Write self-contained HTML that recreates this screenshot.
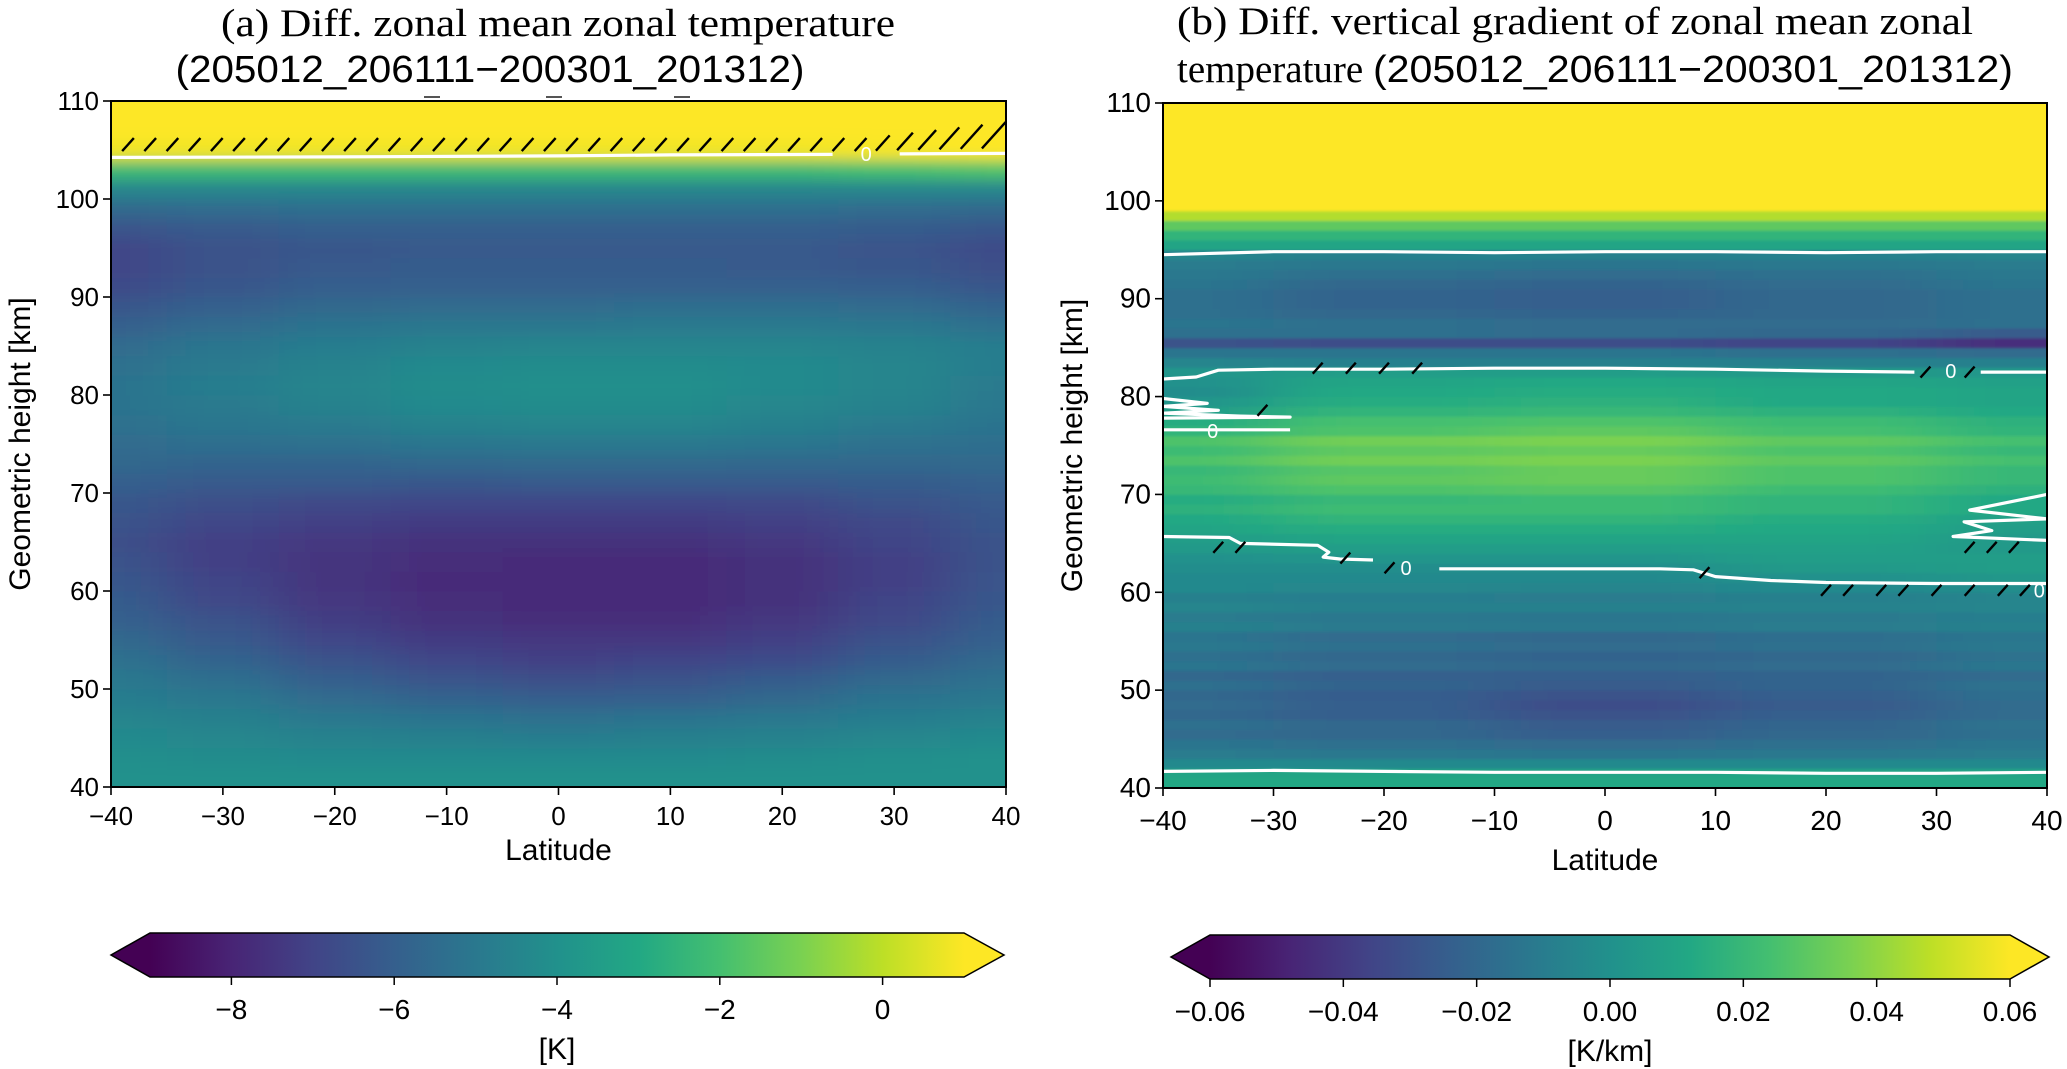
<!DOCTYPE html>
<html><head><meta charset="utf-8"><style>
html,body{margin:0;padding:0;background:#fff;}
svg{display:block;}
.tk{font-family:"Liberation Sans",sans-serif;font-size:26px;fill:#000;}
.tkb{font-family:"Liberation Sans",sans-serif;font-size:28px;fill:#000;}
.lab{font-family:"Liberation Sans",sans-serif;font-size:30px;fill:#000;}
.ttl{font-family:"Liberation Serif",serif;font-size:39px;fill:#000;}
.tts{font-family:"Liberation Sans",sans-serif;font-size:38px;fill:#000;}
</style></head><body>
<svg id="fig" width="2067" height="1069" viewBox="0 0 2067 1069" xmlns="http://www.w3.org/2000/svg">
<defs>
<clipPath id="clipA"><rect x="111" y="101" width="895" height="686"/></clipPath>
<clipPath id="clipB"><rect x="1163" y="103" width="884" height="685"/></clipPath>
<filter id="blurA" x="-10%" y="-10%" width="120%" height="120%"><feGaussianBlur stdDeviation="28 7"/></filter>
<filter id="blurB" x="-10%" y="-10%" width="120%" height="120%"><feGaussianBlur stdDeviation="40 1.2"/></filter>
<linearGradient id="vir" x1="0" x2="1" y1="0" y2="0">
<stop offset="0" stop-color="#440154"/><stop offset="0.1" stop-color="#482475"/><stop offset="0.2" stop-color="#414487"/><stop offset="0.3" stop-color="#355f8d"/><stop offset="0.4" stop-color="#2a788e"/><stop offset="0.5" stop-color="#21918c"/><stop offset="0.6" stop-color="#22a884"/><stop offset="0.7" stop-color="#44bf70"/><stop offset="0.8" stop-color="#7ad151"/><stop offset="0.9" stop-color="#bddf26"/><stop offset="1" stop-color="#fde725"/>
</linearGradient>
</defs>

<text class="ttl" x="558" y="36" text-anchor="middle" textLength="674" lengthAdjust="spacingAndGlyphs">(a) Diff. zonal mean zonal temperature</text>
<text class="tts" x="490" y="82" text-anchor="middle" textLength="629" lengthAdjust="spacingAndGlyphs">(205012_206111−200301_201312)</text>
<line x1="424" y1="97" x2="440" y2="97" stroke="#555" stroke-width="2"/>
<line x1="546" y1="97" x2="562" y2="97" stroke="#555" stroke-width="2"/>
<line x1="674" y1="97" x2="690" y2="97" stroke="#555" stroke-width="2"/>
<text class="ttl" x="1575" y="34" text-anchor="middle" textLength="796" lengthAdjust="spacingAndGlyphs">(b) Diff. vertical gradient of zonal mean zonal</text>
<text x="1177" y="82"><tspan class="ttl">temperature </tspan><tspan class="tts" textLength="640" lengthAdjust="spacingAndGlyphs">(205012_206111−200301_201312)</tspan></text>

<g id="panelA"></g>
<g id="panelB"></g>
<g id="cbars"></g>
</svg>
<script>
const latsA = [-40,-30,-20,-10,0,10,20,30,40];
const heightsA = [41,43,45,47,49,51,53,55,57,59,61,63,65,67,69,71,73,75,77,79,81,83,85,87,89,91,93,95,97,99,101,103,105,107,109];
const valuesA = [
[-4.0,-4.0,-4.0,-4.0,-4.0,-4.0,-4.0,-4.0,-4.0],
[-4.1,-4.2,-4.3,-4.3,-4.3,-4.3,-4.2,-4.1,-4.0],
[-4.3,-4.4,-4.6,-4.7,-4.8,-4.7,-4.6,-4.4,-4.3],
[-4.5,-4.7,-5.0,-5.2,-5.3,-5.2,-5.0,-4.8,-4.6],
[-4.8,-5.0,-5.5,-5.8,-6.0,-5.9,-5.6,-5.2,-5.0],
[-5.0,-5.4,-6.0,-6.4,-6.6,-6.5,-6.1,-5.6,-5.3],
[-5.3,-5.8,-6.5,-6.9,-7.1,-7.0,-6.7,-6.1,-5.6],
[-5.6,-6.2,-6.9,-7.3,-7.4,-7.4,-7.1,-6.5,-5.9],
[-5.9,-6.5,-7.2,-7.6,-7.7,-7.7,-7.4,-6.8,-6.1],
[-6.1,-6.8,-7.4,-7.7,-7.8,-7.8,-7.6,-7.0,-6.3],
[-6.3,-7.0,-7.5,-7.8,-7.8,-7.8,-7.6,-7.1,-6.4],
[-6.5,-7.1,-7.5,-7.7,-7.8,-7.8,-7.6,-7.1,-6.5],
[-6.6,-7.1,-7.4,-7.6,-7.6,-7.6,-7.4,-7.0,-6.5],
[-6.5,-6.9,-7.1,-7.3,-7.3,-7.3,-7.1,-6.8,-6.3],
[-6.3,-6.6,-6.8,-6.9,-6.9,-6.9,-6.8,-6.5,-6.2],
[-6.0,-6.2,-6.2,-6.3,-6.2,-6.2,-6.2,-6.1,-5.9],
[-5.7,-5.8,-5.8,-5.7,-5.6,-5.6,-5.7,-5.7,-5.6],
[-5.5,-5.4,-5.3,-5.1,-5.0,-5.0,-5.1,-5.3,-5.4],
[-5.3,-5.1,-4.9,-4.6,-4.5,-4.5,-4.7,-4.9,-5.2],
[-5.2,-4.9,-4.6,-4.3,-4.2,-4.2,-4.4,-4.6,-5.0],
[-5.2,-4.8,-4.5,-4.2,-4.1,-4.1,-4.3,-4.5,-4.9],
[-5.3,-4.9,-4.6,-4.3,-4.2,-4.2,-4.3,-4.5,-4.8],
[-5.5,-5.1,-4.8,-4.6,-4.5,-4.5,-4.5,-4.6,-4.8],
[-5.9,-5.5,-5.2,-5.0,-5.0,-4.9,-4.9,-5.0,-5.3],
[-6.3,-5.9,-5.6,-5.5,-5.5,-5.4,-5.4,-5.5,-5.8],
[-6.7,-6.3,-6.0,-5.9,-5.9,-5.9,-5.9,-6.0,-6.3],
[-6.9,-6.5,-6.2,-6.1,-6.1,-6.1,-6.2,-6.3,-6.6],
[-6.9,-6.5,-6.3,-6.2,-6.2,-6.2,-6.2,-6.4,-6.7],
[-6.4,-6.2,-6.0,-6.0,-6.0,-6.0,-6.0,-6.1,-6.3],
[-5.6,-5.5,-5.4,-5.4,-5.4,-5.4,-5.4,-5.5,-5.6],
[-4.5,-4.5,-4.5,-4.5,-4.5,-4.5,-4.5,-4.5,-4.5],
[-2.2,-2.2,-2.2,-2.2,-2.2,-2.2,-2.2,-2.0,-1.8],
[0.8,0.8,0.8,0.8,0.8,0.8,0.8,0.9,1.0],
[1.5,1.5,1.5,1.5,1.5,1.5,1.5,1.5,1.5],
[1.5,1.5,1.5,1.5,1.5,1.5,1.5,1.5,1.5]
];
const contourA_lat = [-40,-20,0,10,24.5];
const contourA_h   = [104.25,104.3,104.4,104.5,104.55];
const contourA2_lat = [30.5,40];
const contourA2_h   = [104.6,104.65];

const latsB = [-40,-20,0,20,40];
const heightsB = [];
for (let h = 40.5; h < 110; h += 1) heightsB.push(h);
const valuesB = [
[.012,.012,.012,.012,.012],[.010,.010,.010,.010,.010],[-.004,-.004,-.004,-.004,-.004],
[-.010,-.012,-.014,-.012,-.010],[-.014,-.016,-.018,-.016,-.013],[-.018,-.020,-.024,-.020,-.016],
[-.016,-.020,-.026,-.021,-.015],[-.020,-.024,-.030,-.024,-.018],[-.018,-.024,-.032,-.026,-.018],
[-.020,-.025,-.030,-.024,-.017],[-.016,-.022,-.026,-.022,-.015],[-.020,-.023,-.024,-.022,-.018],
[-.014,-.018,-.020,-.018,-.013],[-.016,-.020,-.022,-.020,-.015],[-.012,-.016,-.018,-.016,-.012],
[-.014,-.018,-.020,-.017,-.013],[-.008,-.011,-.012,-.010,-.008],[-.010,-.012,-.013,-.011,-.009],
[-.006,-.008,-.008,-.007,-.006],[-.008,-.009,-.010,-.008,-.006],[-.004,-.005,-.006,-.004,-.002],
[-.004,-.004,-.004,.000,.003],[-.002,-.002,-.002,.004,.006],[.000,.002,.002,.006,.006],
[.004,.006,.006,.008,.004],[.006,.010,.010,.010,.004],[.010,.014,.014,.012,.006],
[.012,.018,.018,.014,.008],[.016,.022,.022,.018,.012],[.014,.020,.022,.018,.012],
[.020,.026,.028,.022,.016],[.022,.030,.032,.026,.020],[.020,.028,.032,.026,.020],
[.026,.034,.036,.030,.024],[.022,.030,.032,.026,.020],[.026,.034,.036,.030,.024],
[.018,.026,.030,.024,.018],[.014,.024,.026,.022,.016],[.006,.018,.020,.016,.012],
[.002,.014,.016,.012,.010],[-.002,.012,.014,.012,.010],[.000,.010,.012,.010,.008],
[.002,.006,.006,.004,.003],[-.006,-.008,-.008,-.008,-.008],[-.014,-.014,-.014,-.016,-.018],
[-.030,-.032,-.032,-.036,-.044],[-.016,-.016,-.018,-.020,-.026],[-.014,-.016,-.018,-.018,-.016],
[-.016,-.020,-.022,-.020,-.016],[-.016,-.022,-.024,-.020,-.016],[-.016,-.022,-.024,-.020,-.016],
[-.014,-.020,-.022,-.018,-.014],[-.012,-.016,-.018,-.016,-.012],[-.010,-.012,-.014,-.012,-.010],
[-.006,-.008,-.008,-.008,-.006],[.010,.010,.010,.010,.010],[.018,.018,.018,.018,.018],
[.030,.030,.030,.030,.030],[.046,.046,.046,.046,.046],
[.08,.08,.08,.08,.08],[.08,.08,.08,.08,.08],[.08,.08,.08,.08,.08],[.08,.08,.08,.08,.08],
[.08,.08,.08,.08,.08],[.08,.08,.08,.08,.08],[.08,.08,.08,.08,.08],[.08,.08,.08,.08,.08],
[.08,.08,.08,.08,.08],[.08,.08,.08,.08,.08],[.08,.08,.08,.08,.08]
];
const contB1_lat = [-40,-30,-20,-10,0,10,20,30,40];
const contB1_h   = [94.5,94.8,94.8,94.7,94.8,94.8,94.7,94.8,94.8];
const contB2_lat = [-40,-37,-35,-30,-20,-10,0,10,20,28];
const contB2_h   = [81.8,82.0,82.7,82.8,82.8,82.9,82.9,82.8,82.6,82.5];
const contB2b_lat = [34,40];
const contB2b_h   = [82.5,82.5];
const contB3_lat = [-40,-34,-33,-26,-25,-25.5,-24,-21];
const contB3_h   = [65.7,65.6,65.0,64.8,64.1,63.6,63.4,63.3];
const contB3b_lat = [-15,-5,5,8,10,15,20,30,40];
const contB3b_h   = [62.4,62.4,62.4,62.3,61.6,61.2,61.0,60.9,60.9];
const contB4_lat = [-40,-30,-20,-10,0,10,20,30,40];
const contB4_h   = [41.7,41.8,41.7,41.6,41.6,41.6,41.5,41.5,41.6];
const contB5_lat = [-40,-36,-40,-35,-40,-33,-28.5,-40];
const contB5_h   = [79.8,79.3,79.0,78.6,78.3,78.0,77.9,77.8];
const contB6_lat = [-40,-28.5];
const contB6_h   = [76.6,76.6];
const contB7_lat = [40,33,40,32.5,35,31.5,40];
const contB7_h   = [70,68.4,67.5,67.2,66.3,65.7,65.3];

const ticksX = [-40,-30,-20,-10,0,10,20,30,40];
const ticksY = [40,50,60,70,80,90,100,110];
const cbTicksA = [-8,-6,-4,-2,0];
const cbTicksB = [-0.06,-0.04,-0.02,0.00,0.02,0.04,0.06];
const cbLabelsB = ["−0.06","−0.04","−0.02","0.00","0.02","0.04","0.06"];

const NS = "http://www.w3.org/2000/svg";
const VIR = ["#440154","#482475","#414487","#355f8d","#2a788e","#21918c","#22a884","#44bf70","#7ad151","#bddf26","#fde725"];
function hex(c){return [parseInt(c.slice(1,3),16),parseInt(c.slice(3,5),16),parseInt(c.slice(5,7),16)];}
function viridis(t){
  t=Math.max(0,Math.min(1,t));const p=t*10;const i=Math.min(9,Math.floor(p));const f=p-i;
  const a=hex(VIR[i]),b=hex(VIR[i+1]);
  return "rgb("+a.map((v,k)=>Math.round(v+(b[k]-v)*f)).join(",")+")";
}
function mk(tag,attrs,parent){const e=document.createElementNS(NS,tag);for(const k in attrs)e.setAttribute(k,attrs[k]);parent.appendChild(e);return e;}

function drawPanel(g, cfg){
  const {x0,y0,w,h,lats,heights,values,dLat,dH,vmin,vmax,blur,clip,tkClass,tkY,yLabX,xLabY,name} = cfg;
  const xs = lat => x0 + (lat+40)/80*w;
  const ys = hh => y0 + h - (hh-40)/70*h;
  const cg = mk("g",{"clip-path":"url(#"+clip+")"},g);
  const bg = mk("g",{filter:"url(#"+blur+")"},cg);
  heights.forEach((hh,i)=>{
    lats.forEach((la,j)=>{
      let l0=la-dLat/2, l1=la+dLat/2, h0=hh-dH/2, h1=hh+dH/2;
      if(j===0) l0-=15; if(j===lats.length-1) l1+=15;
      if(i===0) h0-=6; if(i===heights.length-1) h1+=6;
      const r = mk("rect",{x:xs(l0),y:ys(h1),width:xs(l1)-xs(l0)+0.5,height:ys(h0)-ys(h1)+0.5,fill:viridis((values[i][j]-vmin)/(vmax-vmin))},bg);
      
      
    });
  });
  cfg.extra && cfg.extra(cg,xs,ys);
  const fr = mk("rect",{x:x0,y:y0,width:w,height:h,fill:"none",stroke:"#000","stroke-width":2},g);
  
  
  ticksX.forEach(t=>{
    const x=xs(t);
    mk("line",{x1:x,y1:y0+h,x2:x,y2:y0+h+8,stroke:"#000","stroke-width":1.6},g);
    const tx=mk("text",{x:x,y:tkY,"text-anchor":"middle",class:tkClass},g);
    tx.textContent = t<0 ? "−"+Math.abs(t) : String(t);
    
    
  });
  ticksY.forEach(t=>{
    const y=ys(t);
    mk("line",{x1:x0-8,y1:y,x2:x0,y2:y,stroke:"#000","stroke-width":1.6},g);
    const tx=mk("text",{x:x0-12,y:y+9,"text-anchor":"end",class:tkClass},g);
    tx.textContent=String(t);
    
    
  });
  const xl=mk("text",{x:x0+w/2,y:xLabY,"text-anchor":"middle",class:"lab"},g);
  xl.textContent="Latitude";
  
  
  const yl=mk("text",{x:0,y:0,"text-anchor":"middle",class:"lab",transform:"translate("+yLabX+","+(y0+h/2)+") rotate(-90)"},g);
  yl.textContent="Geometric height [km]";
  
  
}

function contour(g,xs,ys,la,hh){
  const pts=la.map((l,i)=>xs(l).toFixed(1)+","+ys(hh[i]).toFixed(1)).join(" ");
  const p=mk("polyline",{points:pts,fill:"none",stroke:"#fff","stroke-width":3.2,"stroke-linejoin":"round"},g);
  
  
}
function clabel(g,x,y){
  const t=mk("text",{x:x,y:y,"text-anchor":"middle",fill:"#fff","font-family":"Liberation Sans, sans-serif","font-size":"20px"},g);
  t.textContent="0";
  
  
}
function hatch(g,x,y,len){
  mk("line",{x1:x-len*0.45,y1:y+len*0.5,x2:x+len*0.45,y2:y-len*0.5,stroke:"#000","stroke-width":2.4},g);
}

const gA=document.getElementById("panelA");
drawPanel(gA,{x0:111,y0:101,w:895,h:686,lats:latsA,heights:heightsA,values:valuesA,dLat:10,dH:2,vmin:-9,vmax:1,
  blur:"blurA",clip:"clipA",tkClass:"tk",tkY:825,yLabX:30,xLabY:860,name:"panel-a",
  extra:(cg,xs,ys)=>{
    contour(cg,xs,ys,contourA_lat,contourA_h);
    contour(cg,xs,ys,contourA2_lat,contourA2_h);
    clabel(cg,xs(27.5),ys(104.6)+7);
    for(let x=128;x<1000;x+=22.2){
      const big = x>860 ? (x-860)/140 : 0;
      hatch(cg,x,ys(105.55+big*1.0),13+big*14);
    }
  }});

const gB=document.getElementById("panelB");
drawPanel(gB,{x0:1163,y0:103,w:884,h:685,lats:latsB,heights:heightsB,values:valuesB,dLat:20,dH:1,vmin:-0.06,vmax:0.06,
  blur:"blurB",clip:"clipB",tkClass:"tkb",tkY:830,yLabX:1082,xLabY:870,name:"panel-b",
  extra:(cg,xs,ys)=>{
    [[contB1_lat,contB1_h],[contB2_lat,contB2_h],[contB2b_lat,contB2b_h],[contB3_lat,contB3_h],[contB3b_lat,contB3b_h],
     [contB4_lat,contB4_h],[contB5_lat,contB5_h],[contB6_lat,contB6_h],[contB7_lat,contB7_h]].forEach(c=>contour(cg,xs,ys,c[0],c[1]));
    clabel(cg,xs(31.3),ys(82.6)+7);
    clabel(cg,xs(-35.5),ys(76.5)+7);
    clabel(cg,xs(-18),ys(62.5)+7);
    clabel(cg,xs(39.3),ys(60.2)+7);
    [[-26,82.9],[-23,82.9],[-20,82.9],[-17,82.9],[29,82.5],[33,82.5],[-35,64.6],[-33,64.6],[-23.5,63.5],[-19.5,62.5],[9,62],
     [20,60.2],[22,60.2],[25,60.2],[27,60.2],[30,60.2],[33,60.2],[36,60.2],[38,60.2],[33,64.6],[35,64.6],[37,64.6],[-31,78.6]].forEach(p=>hatch(cg,xs(p[0]),ys(p[1]),11));
  }});

const gC=document.getElementById("cbars");
function cbar(x0,x1,tipL,tipR,y0,y1,vmin,vmax,ticks,labels,unit,nm){
  const g=mk("g",{},gC);
  
  
  const ym=(y0+y1)/2;
  mk("polygon",{points:x0+","+y0+" "+tipL+","+ym+" "+x0+","+y1,fill:VIR[0]},g);
  mk("polygon",{points:x1+","+y0+" "+tipR+","+ym+" "+x1+","+y1,fill:VIR[10]},g);
  mk("rect",{x:x0-0.5,y:y0,width:x1-x0+1,height:y1-y0,fill:"url(#vir)"},g);
  mk("polygon",{points:x0+","+y0+" "+x1+","+y0+" "+tipR+","+ym+" "+x1+","+y1+" "+x0+","+y1+" "+tipL+","+ym,fill:"none",stroke:"#000","stroke-width":1.5},g);
  const sx=v=>x0+(v-vmin)/(vmax-vmin)*(x1-x0);
  ticks.forEach((t,i)=>{
    const x=sx(t);
    mk("line",{x1:x,y1:y1,x2:x,y2:y1+8,stroke:"#000","stroke-width":1.5},g);
    const tx=mk("text",{x:x,y:y1+42,"text-anchor":"middle",class:"tkb"},g);
    tx.textContent=labels[i];
    
    
  });
  const u=mk("text",{x:(x0+x1)/2,y:y1+82,"text-anchor":"middle",class:"lab"},g);
  u.textContent=unit;
  
  
}
cbar(150,964,111,1004,933,977,-9,1,cbTicksA,cbTicksA.map(t=>t<0?"−"+Math.abs(t):String(t)),"[K]","colorbar-a");
cbar(1210,2010,1171,2049,935,979,-0.06,0.06,cbTicksB,cbLabelsB,"[K/km]","colorbar-b");
</script>
</body></html>
